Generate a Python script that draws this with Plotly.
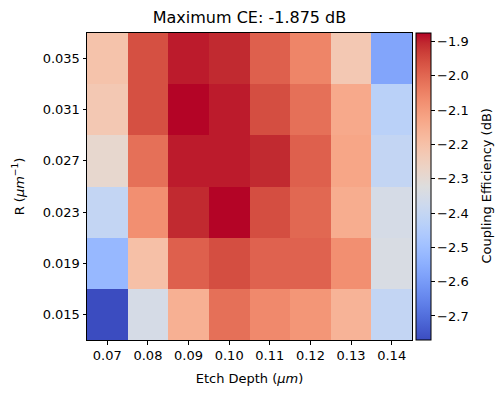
import plotly.graph_objects as go

etch_depths = ["0.07", "0.08", "0.09", "0.10", "0.11", "0.12", "0.13", "0.14"]
radii = ["0.015", "0.019", "0.023", "0.027", "0.031", "0.035"]  # bottom to top

# coupling efficiency (dB), rows follow radii order
ce_r015 = [-2.770, -2.350, -2.152, -2.014, -2.063, -2.090, -2.161, -2.403]
ce_r019 = [-2.520, -2.197, -1.987, -1.956, -1.991, -1.991, -2.076, -2.340]
ce_r023 = [-2.403, -2.076, -1.906, -1.875, -1.956, -2.000, -2.144, -2.350]
ce_r027 = [-2.287, -2.014, -1.893, -1.893, -1.906, -1.987, -2.126, -2.403]
ce_r031 = [-2.224, -1.959, -1.875, -1.893, -1.956, -2.014, -2.135, -2.430]
ce_r035 = [-2.206, -1.959, -1.893, -1.906, -1.987, -2.054, -2.224, -2.573]

z = [ce_r015, ce_r019, ce_r023, ce_r027, ce_r031, ce_r035]
zmin = min(min(r) for r in z)
zmax = max(max(r) for r in z)

cw = [(59,76,192),(68,90,204),(77,104,215),(87,117,225),(98,130,234),(108,142,241),
      (119,154,247),(130,165,251),(141,176,254),(152,185,255),(163,194,255),(174,201,253),
      (184,208,249),(194,213,244),(204,217,238),(213,219,230),(221,221,221),(229,216,209),
      (236,211,197),(241,204,185),(245,196,173),(247,187,160),(247,177,148),(247,166,135),
      (244,154,123),(241,141,111),(236,127,99),(229,112,88),(222,96,77),(213,80,66),
      (203,62,56),(192,40,47),(180,4,38)]
colorscale = [[i/(len(cw)-1), "rgb(%d,%d,%d)" % c] for i, c in enumerate(cw)]

font = "DejaVu Sans"
fig = go.Figure(go.Heatmap(
    x=etch_depths, y=radii, z=z, zmin=zmin, zmax=zmax,
    colorscale=colorscale,
    colorbar=dict(
        x=1.0123, xanchor="left", xpad=0, ypad=0,
        y=0.5, yanchor="middle", len=1, lenmode="fraction",
        thickness=15, outlinewidth=1, outlinecolor="black",
        tickvals=[-1.9, -2.0, -2.1, -2.2, -2.3, -2.4, -2.5, -2.6, -2.7],
        tickformat=".1f", ticks="outside", ticklen=3.5, tickwidth=0.8,
        tickcolor="black", tickfont=dict(family=font, size=13, color="black"),
    ),
))

fig.update_layout(
    width=504, height=397,
    margin=dict(l=87, r=92, t=33, b=57),
    paper_bgcolor="white", plot_bgcolor="white",
    title=dict(text="Maximum CE: -1.875 dB", x=(87 + 412) / 2 / 504, xanchor="center",
               y=1 - 17 / 397, yanchor="middle",
               font=dict(family=font, size=16, color="black")),
    font=dict(family=font, size=13, color="black"),
    annotations=[dict(
        text="Coupling Efficiency (dB)", textangle=-90,
        xref="paper", yref="paper", x=(486 - 87) / 325, y=0.5,
        xanchor="center", yanchor="middle", showarrow=False,
        font=dict(family=font, size=13, color="black"),
    )],
)
fig.update_xaxes(
    title=dict(text="Etch Depth (<i>μm</i>)", standoff=11, font=dict(size=13)),
    ticks="outside", ticklen=3.5, tickcolor="black", tickwidth=0.8,
    showline=True, linecolor="black", linewidth=1, mirror=True,
    tickfont=dict(size=13), showgrid=False, zeroline=False,
)
fig.update_yaxes(
    title=dict(text="R (<i>μm</i><sup>−1</sup>)", standoff=15, font=dict(size=13)),
    ticks="outside", ticklen=3.5, tickcolor="black", tickwidth=0.8,
    showline=True, linecolor="black", linewidth=1, mirror=True,
    tickfont=dict(size=13), showgrid=False, zeroline=False,
)

fig.write_html("out.html", config={"displayModeBar": False},
               post_script="document.body.style.margin='0';document.body.style.overflow='hidden';")
